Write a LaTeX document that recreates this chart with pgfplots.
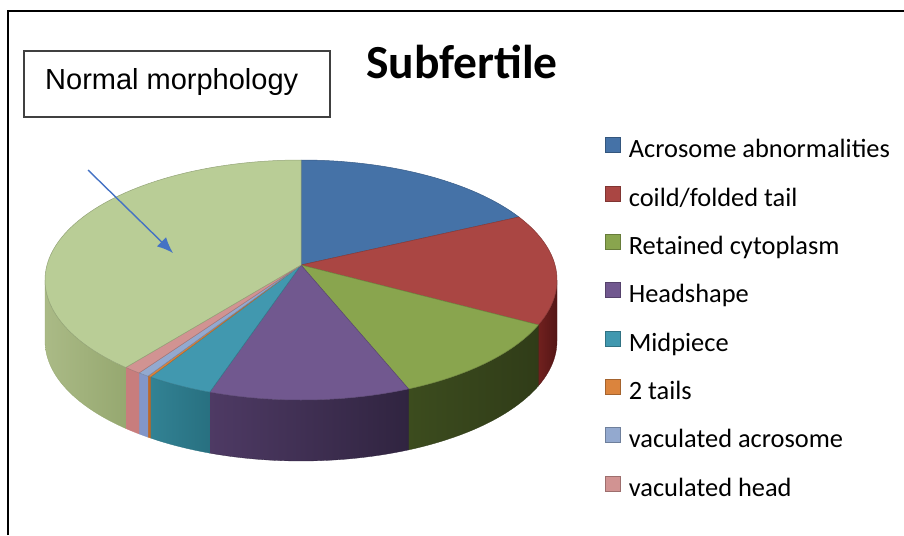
\documentclass[border=0pt]{standalone}
\usepackage{pgfplots}
\pgfplotsset{compat=1.18}
\usepackage{pgfplotstable}
\usetikzlibrary{arrows.meta}
\usepackage{fontspec}
\setmainfont{Carlito}
\newfontfamily\arialfont{Liberation Sans}

% top colours
\definecolor{cA}{RGB}{69,114,167}
\definecolor{cB}{RGB}{170,70,67}
\definecolor{cC}{RGB}{137,165,78}
\definecolor{cD}{RGB}{113,88,143}
\definecolor{cE}{RGB}{65,152,175}
\definecolor{cF}{RGB}{219,132,61}
\definecolor{cG}{RGB}{147,169,207}
\definecolor{cH}{RGB}{209,147,146}
\definecolor{cI}{RGB}{185,205,150}
% side colours (left / right)
\definecolor{sBl}{RGB}{112,32,30}\definecolor{sBr}{RGB}{84,22,22}
\definecolor{sCl}{RGB}{60,76,30}\definecolor{sCr}{RGB}{48,60,24}
\definecolor{sDl}{RGB}{78,58,100}\definecolor{sDr}{RGB}{48,36,64}
\definecolor{sEl}{RGB}{50,130,148}\definecolor{sEr}{RGB}{40,112,128}
\definecolor{sF}{RGB}{190,105,40}
\definecolor{sG}{RGB}{130,150,200}
\definecolor{sH}{RGB}{200,125,125}
\definecolor{sIl}{RGB}{170,186,134}\definecolor{sIr}{RGB}{150,168,112}
\definecolor{arrowblue}{RGB}{68,114,196}

% data: share of each category (percent)
\pgfplotstableread{
label value
AcrosomeAbnormalities 16.2
CoildFoldedTail 14.9
RetainedCytoplasm 12.0
Headshape 12.7
Midpiece 4.2
TwoTails 0.2
VaculatedAcrosome 0.7
VaculatedHead 1.1
NormalMorphology 38.0
}\piedata

\newcommand\getv[2]{\pgfplotstablegetelem{#1}{value}\of\piedata\let#2\pgfplotsretval}
\getv{0}\vA \getv{1}\vB \getv{2}\vC \getv{3}\vD \getv{4}\vE
\getv{5}\vF \getv{6}\vG \getv{7}\vH \getv{8}\vI
\pgfmathsetmacro\aA{90}
\pgfmathsetmacro\aB{\aA-3.6*\vA}
\pgfmathsetmacro\aC{\aB-3.6*\vB}
\pgfmathsetmacro\aD{\aC-3.6*\vC}
\pgfmathsetmacro\aE{\aD-3.6*\vD}
\pgfmathsetmacro\aF{\aE-3.6*\vE}
\pgfmathsetmacro\aG{\aF-3.6*\vF}
\pgfmathsetmacro\aH{\aG-3.6*\vG}
\pgfmathsetmacro\aI{\aH-3.6*\vH}
\pgfmathsetmacro\aJ{\aI-3.6*\vI}

% geometry (pixels)
\def\cx{301}\def\cy{280}\def\rx{256}\def\ry{120}\def\dep{61}\def\apy{265}

% top face of a slice: #1 start angle (larger), #2 end angle, #3 colour
\newcommand\topslice[3]{%
  \addplot[forget plot, fill=#3, draw=#3!80!black, line width=0.5pt,
    domain=#2:#1, samples=80, variable=\t]
    ({\cx+\rx*cos(\t)},{\cy-\ry*sin(\t)}) -- (axis cs:\cx,\apy) -- cycle;}
% side wall of a slice: #1 start, #2 end, #3 left colour, #4 right colour
\newcommand\sideslice[4]{%
  \addplot[forget plot, left color=#3, right color=#4, draw=#4, line width=0.3pt,
    samples at={0,...,81}, variable=\t]
    ({\cx+\rx*cos((\t<40.5) ? (#1+(#2-(#1))*\t/40) : (#2-(#2-(#1))*(\t-41)/40))},
     {\cy-\ry*sin((\t<40.5) ? (#1+(#2-(#1))*\t/40) : (#2-(#2-(#1))*(\t-41)/40)) + (\t>40.5)*\dep}) -- cycle;}

\pgfplotsset{sq/.style={legend image code/.code={%
  \draw[##1, line width=0.9pt] (0pt,-1pt) rectangle (15pt,14pt);
  \path (0pt,0pt) (23pt,0pt);}}}

\begin{document}
\begin{tikzpicture}
\useasboundingbox (0,0) rectangle (904pt,535pt);
\begin{axis}[at={(0pt,0pt)}, anchor=south west,
  width=904pt, height=535pt, scale only axis,
  xmin=0, xmax=904, ymin=0, ymax=535, y dir=reverse,
  axis lines=none, clip=false,
  legend cell align=left,
  legend style={at={(axis cs:605,137)}, anchor=north west, draw=none, fill=none,
    inner sep=0pt, row sep=21.9pt, column sep=0pt,
    font=\fontsize{26.4}{28}\selectfont,
    nodes={inner sep=0pt, text height=18pt, text depth=6pt}},
]
% side walls
\sideslice{0}{\aC}{sBl}{sBr}
\sideslice{\aC}{\aD}{sCl}{sCr}
\sideslice{\aD}{\aE}{sDl}{sDr}
\sideslice{\aE}{\aF}{sEl}{sEr}
\sideslice{\aF}{\aG}{sF}{sF}
\sideslice{\aG}{\aH}{sG}{sG}
\sideslice{\aH}{\aI}{sH}{sH}
\sideslice{\aI}{-180}{sIl}{sIr}
% top faces
\topslice{\aA}{\aB}{cA}
\topslice{\aB}{\aC}{cB}
\topslice{\aC}{\aD}{cC}
\topslice{\aD}{\aE}{cD}
\topslice{\aE}{\aF}{cE}
\topslice{\aF}{\aG}{cF}
\topslice{\aG}{\aH}{cG}
\topslice{\aH}{\aI}{cH}
\topslice{\aI}{\aJ}{cI}

% legend
\addlegendimage{sq, fill=cA, draw=cA!75!black}\addlegendentry{Acrosome abnormalities}
\addlegendimage{sq, fill=cB, draw=cB!75!black}\addlegendentry{coild/folded tail}
\addlegendimage{sq, fill=cC, draw=cC!75!black}\addlegendentry{Retained cytoplasm}
\addlegendimage{sq, fill=cD, draw=cD!75!black}\addlegendentry{Headshape}
\addlegendimage{sq, fill=cE, draw=cE!75!black}\addlegendentry{Midpiece}
\addlegendimage{sq, fill=cF, draw=cF!75!black}\addlegendentry{2 tails}
\addlegendimage{sq, fill=cG, draw=cG!75!black}\addlegendentry{vaculated acrosome}
\addlegendimage{sq, fill=cH, draw=cH!75!black}\addlegendentry{vaculated head}

% frame
\draw[black, line width=2pt] (axis cs:8,535) -- (axis cs:8,11) -- (axis cs:904,11);
% title
\node[anchor=base, font=\fontsize{47.5}{50}\selectfont\bfseries] at (axis cs:462,78) {Subfertile};
% text box
\draw[black!75, line width=1.3pt] (axis cs:24,51) rectangle (axis cs:330,117);
\node[anchor=base west, inner sep=0pt, font=\arialfont\fontsize{29}{31}\selectfont] at (axis cs:45,89) {Normal morphology};
% arrow
\draw[arrowblue, line width=1.4pt, -{Latex[length=16pt,width=13pt]}] (axis cs:88,170) -- (axis cs:173,253);
\end{axis}
\end{tikzpicture}
\end{document}
